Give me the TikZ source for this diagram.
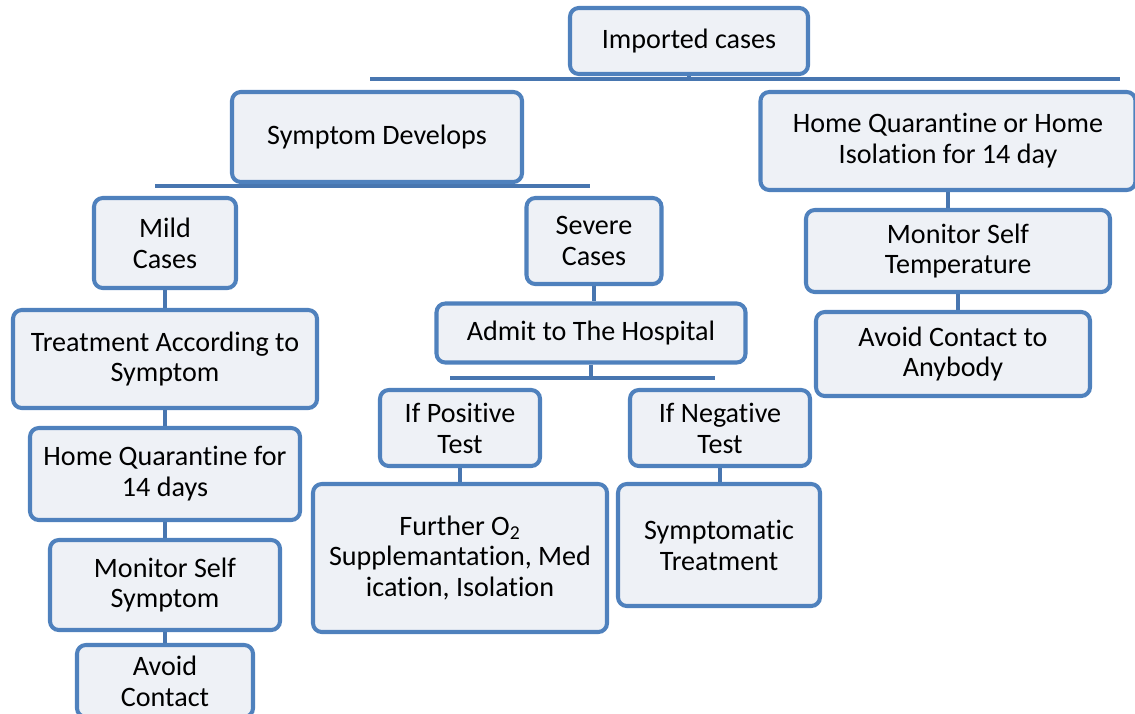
\documentclass[tikz,border=0pt]{standalone}
\usepackage{fontspec}
\setmainfont{Carlito}[Ligatures=NoCommon]
\definecolor{boxblue}{RGB}{79,129,189}
\definecolor{boxfill}{RGB}{238,241,246}
\definecolor{barblue}{RGB}{72,118,176}
\pgfdeclarelayer{bg}
\pgfsetlayers{bg,main}
\begin{document}
\begin{tikzpicture}[x=0.02cm, y=-0.02cm,
   box/.style={draw=boxblue, fill=boxfill, line width=2.3pt, rounded corners=5pt,
               align=center, inner sep=0pt, font=\fontsize{16}{17.6}\selectfont},
   sz/.style 2 args={minimum width=#1*0.02cm, minimum height=#2*0.02cm},
   bar/.style={draw=barblue, line width=2.4pt}]
\useasboundingbox (0,0) rectangle (1135,713);
% top level
\node[box, sz={238}{66}] (imp) at (689,41) {Imported cases};
\node[box, sz={290}{90}] (symp) at (377,137) {Symptom Develops};
\node[box, sz={375}{98}] (homeiso) at (948,141) {Home Quarantine or Home\\Isolation for 14 day};
% mild branch
\node[box, sz={142}{90}] (mild) at (165,243) {Mild\\Cases};
\node[box, sz={304}{98}] (treat) at (165,359) {Treatment According to\\Symptom};
\node[box, sz={270}{92}] (homeq) at (165,474) {Home Quarantine for\\14 days};
\node[box, sz={230}{90}] (monsymp) at (165,585) {Monitor Self\\Symptom};
\node[box, sz={176}{72}] (avoid) at (165,681) {Avoid\\Contact};
% severe branch
\node[box, sz={135}{86}] (severe) at (594,241) {Severe\\Cases};
\node[box, sz={309}{59}] (admit) at (591,333) {Admit to The Hospital};
\node[box, sz={160}{76}] (ifpos) at (460,428) {If Positive\\Test};
\node[box, sz={180}{76}] (ifneg) at (720,428) {If Negative\\Test};
\node[box, sz={294}{148}] (further) at (460,558) {Further O\textsubscript{2}\\Supplemantation, Med\\ication, Isolation};
\node[box, sz={202}{122}] (sympt) at (719,545) {Symptomatic\\Treatment};
% home isolation branch
\node[box, sz={304}{82}] (montemp) at (958,251) {Monitor Self\\Temperature};
\node[box, sz={274}{84}] (avoidany) at (953,354) {Avoid Contact to\\Anybody};
% bars
\coordinate (impL) at (370,79);
\coordinate (impR) at (1120,79);
\coordinate (sympL) at (155,186);
\coordinate (sympR) at (590,186);
\coordinate (admitL) at (450,378);
\coordinate (admitR) at (715,378);
\begin{pgfonlayer}{bg}
\foreach \p in {imp,symp,admit}
   {\draw[bar] (\p L) -- (\p R);
    \draw[bar] (\p.south) -- (\p.south |- \p L);}
\foreach \a/\b in {mild/treat, treat/homeq, homeq/monsymp, monsymp/avoid,
                   severe/admit, ifpos/further, ifneg/sympt,
                   homeiso/montemp, montemp/avoidany}
   \draw[bar] (\a.south) -- (\a.south |- \b.north);
\end{pgfonlayer}
\end{tikzpicture}
\end{document}
